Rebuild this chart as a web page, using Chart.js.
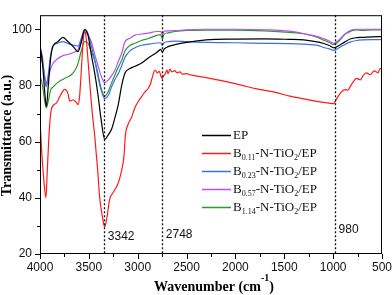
<!DOCTYPE html>
<html>
<head>
<meta charset="utf-8">
<script src="https://cdn.jsdelivr.net/npm/chart.js@4.4.1/dist/chart.umd.min.js"></script>
<style>
  html, body { margin: 0; padding: 0; background: #fff; }
  canvas { display: block; }
</style>
</head>
<body>
<canvas id="ftir" width="392" height="295"></canvas>
<script>
// wavenumbers (cm-1) shared by EP and three doped samples
var wnShared = [4000,3975,3950,3935,3915,3890,3867,3820,3765,3720,3680,3640,3611,3580,3543,3509,3475,3440,3406,3375,
  3338,3300,3267,3232,3199,3164,3130,3080,3028,2960,2892,2806,2765,2748,2730,2690,2618,2500,2300,2000,
  1700,1450,1300,1150,1104,1040,991,940,880,820,760,700,600,500];

var tEP = [94,88,77,72.5,80,90,94,95.5,97.1,95.8,94.5,93,92,95,99.9,97.9,91,84.4,76.5,68,
  60.8,62.5,64.5,68.7,73.2,80,84.4,86,86.8,88,89.8,91.7,92.8,91.8,92.9,93.8,94.5,95.3,96.2,96.5,
  96.6,96.4,96.2,95.4,95,94.2,93.4,94.2,95.5,96.6,97,97.1,97.3,97.4];

var tB023 = [94,90,82,79.5,84,91,94,95,95.6,95,94.5,94.2,94,96.5,100,98.5,94,89,83,78.5,
  75.3,76.5,79.5,82.2,84.2,87,90,92.3,93.4,94.3,94.7,95.1,95.2,94.3,95.2,95.6,95.8,95.6,95.3,95.2,
  95,94.9,94.7,94.2,93.6,93,92.5,93.4,94.6,95.5,96,96.2,96.3,96.3];

var tB057 = [91,88,83,80.5,83,86,87.8,89.5,90.6,91,91.4,92,92.8,95.5,99,98,95.5,91,87,83.5,
  81,82,83.5,85.5,88.5,91.5,95.6,96.8,97.9,98.3,98.6,99.2,99.2,98,99.2,99.4,99.5,99.8,100,100,
  99.8,99.3,98.4,97.3,96.7,95.8,95,96.2,98.2,99.6,100,100,100,100];

var tB114 = [83.5,80,74,72,74.5,78.5,79.4,81,82.2,83,83.8,85.5,87.8,92,95.6,95,92,89,84,79,
  76.2,78,81,83.8,86.5,89,92.3,94.2,95,96,96.7,97.8,98.1,96.5,98.2,98.7,99.2,99.6,99.7,99.7,
  99.4,98.9,98.4,97,96.2,95.3,94.5,95.8,98.2,99.3,99.8,99.6,99.8,99.8];

// B0.11 sample has its own (denser) reading
var wnB011 = [4000,3985,3960,3940,3925,3905,3884,3833,3782,3747,3713,3696,3662,3630,3611,3595,3577,3560,3543,3525,
  3500,3470,3440,3410,3389,3360,3338,3315,3287,3250,3202,3170,3140,3127,3100,3062,3030,2994,2960,2930,
  2892,2870,2850,2823,2800,2780,2760,2748,2735,2720,2700,2690,2670,2650,2620,2600,2570,2540,2500,2465,
  2300,2127,1950,1782,1600,1441,1300,1168,1080,1030,998,960,920,880,850,827,800,760,720,694,
  660,620,580,540,520,500];
var tB011 = [68,58,46,40,50,64,71.5,73.7,77.1,78.6,77,74.4,74.9,74,73.2,76,85.5,95,99.5,96,
  85,72,62,50,40,33,29.7,33,39.5,42,45,49,55,62,66,68.7,72,74.3,76,77.5,
  79,80.5,83,85.5,84.5,85,83,82.5,83.5,84,85.5,84.2,85.8,84.8,85.3,84.5,84.8,84,84.2,83.8,
  82.8,81.6,80.2,78.8,77.6,76.2,75.2,74.3,73.9,73.6,73.5,75.5,77.5,78.5,78.3,79.5,81,82.5,82,83.5,
  84.5,83.8,85.2,84.5,86,86];

var peakWn = [3342, 2748, 980];
var peakText = ['3342', '2748', '980'];

var seriesNames = ['EP', 'B_{0.11}-N-TiO_{2}/EP', 'B_{0.23}-N-TiO_{2}/EP', 'B_{0.57}-N-TiO_{2}/EP', 'B_{1.14}-N-TiO_{2}/EP'];
var seriesColors = ['#000000', '#ff1a1a', '#3d6ee8', '#b84ff0', '#2b9a2b'];

function pts(wn, t) {
  var out = [];
  for (var i = 0; i < wn.length; i++) out.push({x: wn[i], y: t[i]});
  return out;
}

var seriesData = [pts(wnShared, tEP), pts(wnB011, tB011), pts(wnShared, tB023), pts(wnShared, tB057), pts(wnShared, tB114)];

var serif = '"Liberation Serif", "Times New Roman", serif';
var sans = '"Liberation Sans", Arial, sans-serif';

// draws text with _{sub} parts
function drawRich(ctx, str, x, y, size) {
  var parts = str.split(/(_\{[^}]*\})/);
  parts.forEach(function(p){
    if (!p) return;
    if (p.charAt(0) === '_') {
      var s = p.slice(2, -1);
      ctx.font = Math.round(size * 0.58) + 'px ' + serif;
      ctx.fillText(s, x, y + size * 0.32);
      x += ctx.measureText(s).width;
    } else {
      ctx.font = size + 'px ' + serif;
      ctx.fillText(p, x, y);
      x += ctx.measureText(p).width;
    }
  });
}

var decor = {
  id: 'decor',
  afterDatasetsDraw: function(chart) {
    var ctx = chart.ctx, a = chart.chartArea, xs = chart.scales.x, ys = chart.scales.y;
    ctx.save();

    // dotted marker lines
    ctx.strokeStyle = '#111';
    ctx.lineWidth = 1.3;
    ctx.setLineDash([2, 2]);
    peakWn.forEach(function(w){
      var px = Math.round(xs.getPixelForValue(w)) + 0.5;
      ctx.beginPath(); ctx.moveTo(px, a.top); ctx.lineTo(px, a.bottom); ctx.stroke();
    });
    ctx.setLineDash([]);

    ctx.fillStyle = '#111';
    ctx.font = '12px ' + sans;
    ctx.textBaseline = 'middle';
    ctx.textAlign = 'left';
    var labT = [26.3, 26.7, 28.7];
    peakWn.forEach(function(w, i){
      ctx.fillText(peakText[i], xs.getPixelForValue(w) + 3.5, ys.getPixelForValue(labT[i]));
    });

    // frame
    ctx.strokeStyle = '#000';
    ctx.lineWidth = 1;
    ctx.strokeRect(a.left + 0.5, a.top + 0.5, a.right - a.left - 1, a.bottom - a.top - 1);

    // outward ticks
    ctx.beginPath();
    for (var w = 500; w <= 4000; w += 250) {
      var px = Math.round(xs.getPixelForValue(w)) + 0.5;
      var len = (w % 500 === 0) ? 5 : 3;
      ctx.moveTo(px, a.bottom); ctx.lineTo(px, a.bottom + len);
    }
    for (var v = 20; v <= 100; v += 10) {
      var py = Math.round(ys.getPixelForValue(v)) + 0.5;
      var l2 = (v % 20 === 0) ? 5 : 3;
      ctx.moveTo(a.left, py); ctx.lineTo(a.left - l2, py);
    }
    ctx.stroke();

    // legend
    var ly = 135, lx = 202;
    chart.data.datasets.forEach(function(ds, i){
      var yy = ly + i * 18;
      ctx.strokeStyle = ds.borderColor;
      ctx.lineWidth = 1.5;
      ctx.beginPath(); ctx.moveTo(lx, yy + 0.5); ctx.lineTo(lx + 29, yy + 0.5); ctx.stroke();
      ctx.fillStyle = '#111';
      ctx.textBaseline = 'middle';
      drawRich(ctx, seriesNames[i], lx + 31, yy + 1, 13);
    });

    // axis titles
    ctx.fillStyle = '#000';
    ctx.textBaseline = 'alphabetic';
    var t1 = 'Wavenumber (cm', t2 = '-1', t3 = ')';
    ctx.font = 'bold 14px ' + serif;
    var w1 = ctx.measureText(t1).width, w3 = ctx.measureText(t3).width;
    ctx.font = 'bold 10px ' + serif;
    var w2 = ctx.measureText(t2).width;
    var cx = (a.left + a.right) / 2 + 3;
    var sx = cx - (w1 + w2 + w3) / 2;
    ctx.font = 'bold 14px ' + serif;
    ctx.fillText(t1, sx, 291);
    ctx.font = 'bold 10px ' + serif;
    ctx.fillText(t2, sx + w1, 281);
    ctx.font = 'bold 14px ' + serif;
    ctx.fillText(t3, sx + w1 + w2, 291);

    ctx.translate(7.5, (a.top + a.bottom) / 2 + 1);
    ctx.rotate(-Math.PI / 2);
    ctx.textAlign = 'center';
    ctx.textBaseline = 'middle';
    ctx.fillText('Transmittance (a.u.)', 0, 0);
    ctx.restore();
  }
};

var ctx = document.getElementById('ftir').getContext('2d');
var chart = new Chart(ctx, {
  type: 'line',
  data: {
    datasets: seriesData.map(function(d, i){
      return {
        label: seriesNames[i].replace(/_\{([^}]*)\}/g, '$1'),
        data: d,
        borderColor: seriesColors[i],
        backgroundColor: seriesColors[i],
        borderWidth: 1.2,
        pointRadius: 0,
        fill: false,
        cubicInterpolationMode: 'monotone'
      };
    })
  },
  options: {
    responsive: false,
    animation: false,
    events: [],
    layout: { padding: { top: 3, right: 10, left: 0, bottom: 0 } },
    plugins: { legend: { display: false }, tooltip: { enabled: false } },
    scales: {
      x: {
        type: 'linear',
        reverse: true,
        min: 500,
        max: 4000,
        grid: { display: false, drawTicks: false },
        border: { display: false },
        ticks: {
          stepSize: 500, padding: 6, color: '#111', maxRotation: 0,
          font: { family: sans, size: 12 },
          callback: function(v){ return String(v); }
        },
        afterFit: function(s){ s.height = 41; s.paddingLeft = 0; s.paddingRight = 0; }
      },
      y: {
        min: 20,
        max: 105,
        grid: { display: false, drawTicks: false },
        border: { display: false },
        ticks: {
          stepSize: 20, includeBounds: false, padding: 8, color: '#111',
          font: { family: sans, size: 12 },
          callback: function(v){ return String(v); }
        },
        afterFit: function(s){ s.width = 40; }
      }
    }
  },
  plugins: [decor]
});
</script>
</body>
</html>
